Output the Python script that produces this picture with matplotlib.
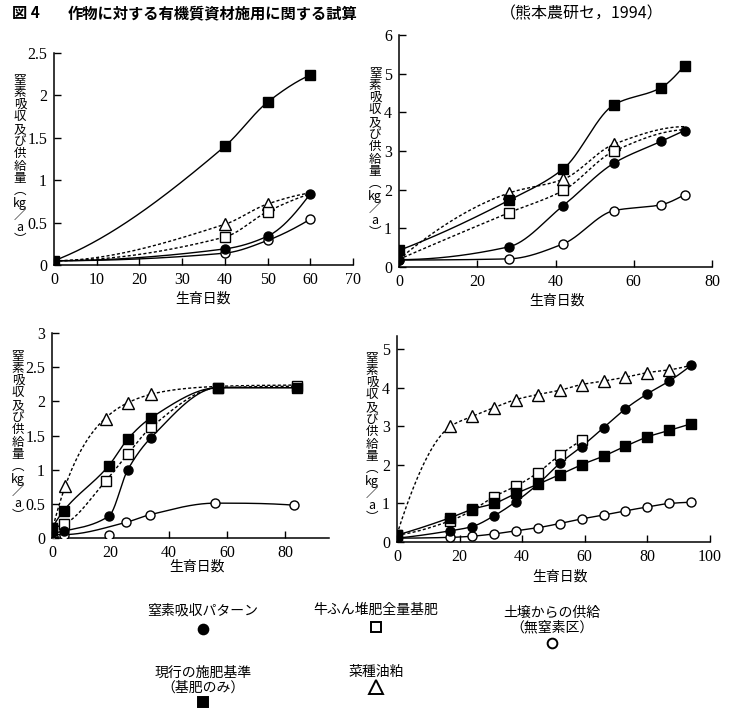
import matplotlib
matplotlib.use("Agg")
import matplotlib.pyplot as plt
import numpy as np

plt.rcParams['font.family'] = ['Noto Sans CJK JP', 'DejaVu Sans']

# ---- data ----
# panel 1 (top left)
p1_x = [0, 40, 50, 60]
p1_fsq = [0.05, 1.40, 1.92, 2.24]      # 現行の施肥基準
p1_fci = [0.05, 0.19, 0.34, 0.84]      # 窒素吸収パターン
p1_oci = [0.05, 0.14, 0.29, 0.54]      # 土壌からの供給
p1_tri_x = [40, 50]
p1_tri = [0.48, 0.72]                  # 菜種油粕
p1_osq_x = [40, 50]
p1_osq = [0.33, 0.63]                  # 牛ふん堆肥全量基肥
p1_tri_ends = ([0, 0.05], [60, 0.85])
p1_osq_ends = ([0, 0.05], [60, 0.84])

# panel 2 (top right)
p2_x = [0, 28, 42, 55, 67, 73]
p2_fsq = [0.43, 1.72, 2.54, 4.20, 4.64, 5.21]
p2_fci = [0.19, 0.52, 1.59, 2.69, 3.25, 3.53]
p2_oci = [0.18, 0.21, 0.60, 1.46, 1.61, 1.87]
p2_tri_x = [28, 42, 55]
p2_tri = [1.91, 2.27, 3.18]
p2_osq_x = [28, 42, 55]
p2_osq = [1.40, 1.98, 3.00]
p2_tri_ends = ([0, 0.20], [73, 3.63])
p2_osq_ends = ([0, 0.20], [73, 3.55])

# panel 3 (bottom left)
p3_x = [0, 4, 19.5, 26, 34, 57, 84]
p3_fsq = [0.15, 0.40, 1.06, 1.45, 1.76, 2.20, 2.20]
p3_fci = [0.07, 0.10, 0.32, 1.00, 1.47, 2.20, 2.20]
p3_osq_x = [0, 4, 18.5, 26, 34, 57, 84]
p3_osq = [0.15, 0.20, 0.84, 1.23, 1.62, 2.20, 2.22]
p3_oci_x = [0, 4, 19.5, 25.5, 33.5, 56, 83]
p3_oci = [0.05, 0.05, 0.05, 0.23, 0.34, 0.51, 0.48]
p3_oci_off_curve = [2]                 # point not on the drawn curve
p3_tri_x = [0, 4.3, 18.5, 26, 34]
p3_tri = [0.10, 0.76, 1.74, 1.97, 2.11]
p3_tri_end = [84, 2.24]

# panel 4 (bottom right)
p4_x = [0, 17, 24, 31, 38, 45, 52, 59, 66, 73, 80, 87, 94]
p4_fci = [0.10, 0.29, 0.40, 0.68, 1.05, 1.50, 2.04, 2.48, 2.97, 3.46, 3.85, 4.18, 4.59]
p4_fsq = [0.18, 0.63, 0.85, 1.00, 1.26, 1.50, 1.75, 2.01, 2.23, 2.49, 2.73, 2.90, 3.07]
p4_oci = [0.10, 0.12, 0.15, 0.21, 0.29, 0.37, 0.48, 0.60, 0.70, 0.81, 0.91, 1.00, 1.03]
p4_tri_x = [17, 24, 31, 38, 45, 52, 59, 66, 73, 80, 87]
p4_tri = [3.00, 3.26, 3.49, 3.70, 3.83, 3.94, 4.09, 4.18, 4.28, 4.40, 4.47]
p4_tri_ends = ([0, 0.20], [94, 4.59])
p4_osq_x = [0, 17, 24, 31, 38, 45, 52, 59]
p4_osq = [0.18, 0.55, 0.82, 1.18, 1.45, 1.80, 2.26, 2.64]

ylabel_chars = ['窒', '素', '吸', '収', '及', 'び', '供', '給', '量', '︵', 'kg', '／', 'a', '︶']
xlabel = '生育日数'

legend_items = [
    ('窒素吸収パターン', 'o', 'k'),
    ('牛ふん堆肥全量基肥', 's', 'w'),
    ('土壌からの供給\n（無窒素区）', 'o', 'w'),
    ('現行の施肥基準\n（基肥のみ）', 's', 'k'),
    ('菜種油粕', '^', 'w'),
]


def end_slope(h0, h1, d0, d1):
    m = ((2 * h0 + h1) * d0 - h0 * d1) / (h0 + h1)
    if np.sign(m) != np.sign(d0):
        return 0.0
    if np.sign(d0) != np.sign(d1) and abs(m) > abs(3 * d0):
        return 3 * d0
    return m


def smooth(xs, ys, n=300):
    # monotone cubic (pchip) curve through the points
    x = np.asarray(xs, float)
    y = np.asarray(ys, float)
    h = np.diff(x)
    d = np.diff(y) / h
    m = np.zeros_like(x)
    if len(x) == 2:
        m[:] = d[0]
    else:
        for k in range(1, len(x) - 1):
            if d[k - 1] * d[k] > 0:
                w1 = 2 * h[k] + h[k - 1]
                w2 = h[k] + 2 * h[k - 1]
                m[k] = (w1 + w2) / (w1 / d[k - 1] + w2 / d[k])
        m[0] = end_slope(h[0], h[1], d[0], d[1])
        m[-1] = end_slope(h[-1], h[-2], d[-1], d[-2])
    xx = np.linspace(x[0], x[-1], n)
    i = np.clip(np.searchsorted(x, xx) - 1, 0, len(h) - 1)
    t = (xx - x[i]) / h[i]
    yy = ((2 * t**3 - 3 * t**2 + 1) * y[i] + (t**3 - 2 * t**2 + t) * h[i] * m[i]
          + (-2 * t**3 + 3 * t**2) * y[i + 1] + (t**3 - t**2) * h[i] * m[i + 1])
    return xx, yy


W, H = 733, 714
fig = plt.figure(figsize=(W / 100, H / 100), dpi=100)


def px_axes(l, t, r, b):
    return fig.add_axes([l / W, 1 - b / H, (r - l) / W, (b - t) / H])


LW = 1.0
DOT = (0, (2.2, 1.6))
MS = {'o': 6.5, 's': 6.8, '^': 9}


def curve(ax, xs, ys, dotted=False):
    xx, yy = smooth(xs, ys)
    ax.plot(xx, yy, color='k', lw=LW, ls=DOT if dotted else '-', zorder=2)


def marks(ax, xs, ys, marker, face):
    ax.plot(xs, ys, ls='none', marker=marker, ms=MS[marker], mfc=face,
            mec='k', mew=1.0, zorder=4 if face == 'k' else 3)


def style(ax, xlim, ylim, xticks, yticks, ylabs):
    ax.set_xlim(*xlim)
    ax.set_ylim(*ylim)
    ax.set_xticks(xticks)
    ax.set_yticks(yticks)
    ax.set_yticklabels(ylabs)
    for s in ['top', 'right']:
        ax.spines[s].set_visible(False)
    for s in ['left', 'bottom']:
        ax.spines[s].set_linewidth(1.1)
    ax.tick_params(direction='in', length=5, width=1.0, pad=5)
    for lab in ax.get_xticklabels() + ax.get_yticklabels():
        lab.set_fontfamily('Liberation Serif')
        lab.set_fontsize(11.5)
    ax.patch.set_alpha(0)


def labels(ylab_xy, xlab_xy):
    fig.text(ylab_xy[0] / W, 1 - ylab_xy[1] / H, '\n'.join(ylabel_chars),
             ha='center', va='center', fontsize=9, linespacing=0.93)
    fig.text(xlab_xy[0] / W, 1 - xlab_xy[1] / H, xlabel,
             ha='center', va='center', fontsize=10)


# panel 1
ax1 = px_axes(54, 53, 353, 265)
curve(ax1, p1_x, p1_fsq)
curve(ax1, p1_x, p1_fci)
curve(ax1, p1_x, p1_oci)
curve(ax1, [p1_tri_ends[0][0]] + p1_tri_x + [p1_tri_ends[1][0]],
      [p1_tri_ends[0][1]] + p1_tri + [p1_tri_ends[1][1]], dotted=True)
curve(ax1, [p1_osq_ends[0][0]] + p1_osq_x + [p1_osq_ends[1][0]],
      [p1_osq_ends[0][1]] + p1_osq + [p1_osq_ends[1][1]], dotted=True)
marks(ax1, p1_x, p1_oci, 'o', 'w')
marks(ax1, p1_tri_x, p1_tri, '^', 'w')
marks(ax1, p1_osq_x, p1_osq, 's', 'w')
marks(ax1, p1_x, p1_fci, 'o', 'k')
marks(ax1, p1_x, p1_fsq, 's', 'k')
style(ax1, (0, 70), (0, 2.5), range(0, 71, 10), [0, 0.5, 1, 1.5, 2, 2.5],
      ['0', '0.5', '1', '1.5', '2', '2.5'])
labels((20, 160), (203, 299))

# panel 2
ax2 = px_axes(399, 35, 712, 267)
curve(ax2, p2_x, p2_fsq)
curve(ax2, p2_x, p2_fci)
curve(ax2, p2_x, p2_oci)
curve(ax2, [p2_tri_ends[0][0]] + p2_tri_x + [p2_tri_ends[1][0]],
      [p2_tri_ends[0][1]] + p2_tri + [p2_tri_ends[1][1]], dotted=True)
curve(ax2, [p2_osq_ends[0][0]] + p2_osq_x + [p2_osq_ends[1][0]],
      [p2_osq_ends[0][1]] + p2_osq + [p2_osq_ends[1][1]], dotted=True)
marks(ax2, p2_x, p2_oci, 'o', 'w')
marks(ax2, p2_tri_x, p2_tri, '^', 'w')
marks(ax2, p2_osq_x, p2_osq, 's', 'w')
marks(ax2, p2_x, p2_fci, 'o', 'k')
marks(ax2, p2_x, p2_fsq, 's', 'k')
style(ax2, (0, 80), (0, 6), range(0, 81, 20), range(0, 7),
      [str(v) for v in range(0, 7)])
labels((375, 153), (557, 301))

# panel 3
ax3 = px_axes(52, 333, 329, 538)
curve(ax3, p3_x, p3_fsq)
curve(ax3, p3_x, p3_fci)
curve(ax3, p3_osq_x, p3_osq, dotted=True)
oc_line = [k for k in range(len(p3_oci_x)) if k not in p3_oci_off_curve]
curve(ax3, [p3_oci_x[k] for k in oc_line], [p3_oci[k] for k in oc_line])
# saturating curve fitted to the triangle points
fx = np.array(p3_tri_x[1:] + [p3_tri_end[0]], float)
fy = np.array(p3_tri[1:] + [p3_tri_end[1]], float)
y0 = p3_tri[0]
best = None
for A in np.linspace(2.0, 2.5, 101):
    for b in np.linspace(0.02, 0.2, 181):
        err = np.sum((A - (A - y0) * np.exp(-b * fx) - fy) ** 2)
        if best is None or err < best[0]:
            best = (err, A, b)
xx = np.linspace(0, p3_tri_end[0], 300)
ax3.plot(xx, best[1] - (best[1] - y0) * np.exp(-best[2] * xx), color='k',
         lw=LW, ls=DOT, zorder=2)
marks(ax3, p3_oci_x, p3_oci, 'o', 'w')
marks(ax3, p3_tri_x, p3_tri, '^', 'w')
marks(ax3, p3_osq_x, p3_osq, 's', 'w')
marks(ax3, p3_x, p3_fci, 'o', 'k')
marks(ax3, p3_x, p3_fsq, 's', 'k')
style(ax3, (0, 95), (0, 3), range(0, 81, 20), [0, 0.5, 1, 1.5, 2, 2.5, 3],
      ['0', '0.5', '1', '1.5', '2', '2.5', '3'])
labels((18, 436), (197, 567))

# panel 4
ax4 = px_axes(397, 336, 710, 542)
curve(ax4, p4_x, p4_fsq)
curve(ax4, p4_x, p4_fci)
curve(ax4, p4_x, p4_oci)
curve(ax4, [p4_tri_ends[0][0]] + p4_tri_x + [p4_tri_ends[1][0]],
      [p4_tri_ends[0][1]] + p4_tri + [p4_tri_ends[1][1]], dotted=True)
curve(ax4, p4_osq_x, p4_osq, dotted=True)
marks(ax4, p4_x, p4_oci, 'o', 'w')
marks(ax4, p4_tri_x, p4_tri, '^', 'w')
marks(ax4, p4_osq_x, p4_osq, 's', 'w')
marks(ax4, p4_x, p4_fci, 'o', 'k')
marks(ax4, p4_x, p4_fsq, 's', 'k')
style(ax4, (0, 100), (0, 5.35), range(0, 101, 20), range(0, 6),
      [str(v) for v in range(0, 6)])
labels((372, 438), (560, 577))

# title and source
fig.text(12 / W, 1 - 13 / H, '図 4', fontsize=11, fontweight='bold',
         va='center', ha='left')
fig.text(68 / W, 1 - 13 / H, '作物に対する有機質資材施用に関する試算',
         fontsize=11, fontweight='bold', va='center', ha='left')
fig.text(582 / W, 1 - 14 / H, '（熊本農研セ，1994）', fontsize=11.5,
         va='center', ha='center')

# legend below the panels
lax = fig.add_axes([0, 0, 1, 1])
lax.set_xlim(0, W)
lax.set_ylim(H, 0)
lax.axis('off')
leg_pos = [(203, 610, 629), (376, 610, 627), (552, 620, 643),
           (203, 680, 702), (376, 672, 687)]
for (txt, mk, face), (cx, ty, my) in zip(legend_items, leg_pos):
    lax.text(cx, ty, txt, ha='center', va='center', fontsize=10,
             linespacing=1.1)
    lax.plot([cx], [my], ls='none', marker=mk, ms=MS[mk] + 0.5, mfc=face,
             mec='k', mew=1.4)

fig.savefig('out.png', dpi=100)
